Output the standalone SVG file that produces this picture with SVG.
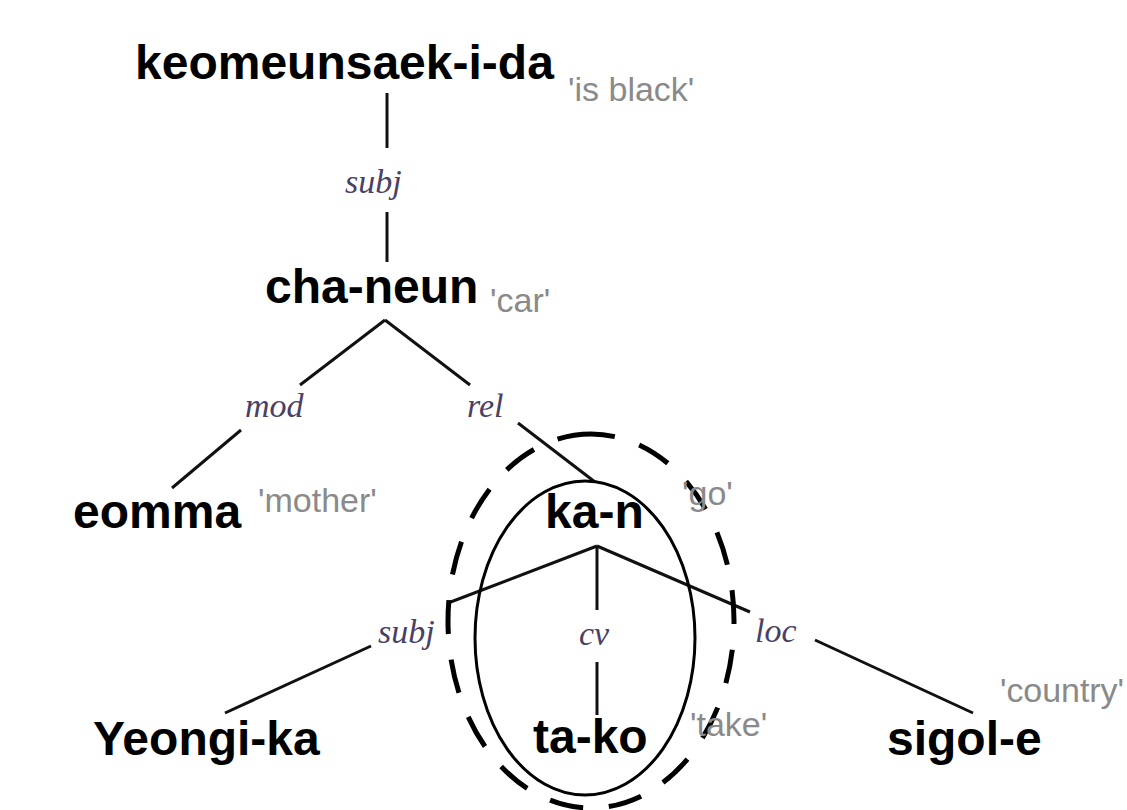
<svg xmlns="http://www.w3.org/2000/svg" width="1127" height="810" viewBox="0 0 1127 810">
  <style>
    .word { font-family: "Liberation Sans", Arial, sans-serif; font-weight: bold; font-size: 48px; fill: #000; }
    .gloss { font-family: "Liberation Sans", Arial, sans-serif; font-size: 34px; fill: #8a8a8a; }
    .rel { font-family: "Liberation Serif", "Times New Roman", serif; font-style: italic; font-size: 34px; fill: #4a3f66; }
    .edge { stroke: #111; stroke-width: 3; fill: none; stroke-linecap: butt; }
    .ring { stroke: #000; stroke-width: 3; fill: none; }
    .ring-dash { stroke: #000; stroke-width: 5; fill: none; }
  </style>
  <rect width="1127" height="810" fill="#fff"/>

  <!-- dependency arcs; each one is broken around its relation label -->
  <g id="connectors">
    <line class="edge" x1="387" y1="93" x2="387" y2="148"/>
    <line class="edge" x1="387" y1="212" x2="387" y2="262"/>
    <line class="edge" x1="385" y1="320" x2="300" y2="385"/>
    <line class="edge" x1="385" y1="320" x2="470" y2="385"/>
    <line class="edge" x1="241" y1="430" x2="172" y2="488"/>
    <line class="edge" x1="518" y1="423" x2="595" y2="482"/>
    <line class="edge" x1="597" y1="546" x2="597" y2="610"/>
    <line class="edge" x1="597" y1="662" x2="597" y2="715"/>
    <line class="edge" x1="597" y1="546" x2="448" y2="603"/>
    <line class="edge" x1="371" y1="646" x2="225" y2="713"/>
    <line class="edge" x1="597" y1="546" x2="750" y2="612"/>
    <line class="edge" x1="815" y1="640" x2="973" y2="713"/>
  </g>

  <!-- relation labels -->
  <g id="labels">
    <text class="rel" x="345" y="193">subj</text>
    <text class="rel" x="245" y="417">mod</text>
    <text class="rel" x="467" y="417">rel</text>
    <text class="rel" x="378" y="643">subj</text>
    <text class="rel" x="579" y="645">cv</text>
    <text class="rel" x="755" y="642">loc</text>
  </g>

  <!-- catena groupings around ka-n / ta-ko -->
  <g id="catena">
    <ellipse class="ring" cx="585" cy="638" rx="110" ry="157"/>
    <path class="ring-dash" d="M591,434 A143,187 0 0 1 591,808 A143,187 0 0 1 591,434" pathLength="1040.6"
          stroke-dasharray="24 25.8 34 25.8 34 25.8 34 25.8 34 25.8 34 25.8 34 25.8 34 25.8 34 25.8 34 25.8 34 25.8 34 25.8 34 25.8 34 25.8 34 25.8 34 25.8 34 25.8 34 0"/>
  </g>

  <g id="n-keomeunsaek">
    <text class="word" x="135" y="79">keomeunsaek-i-da</text>
    <text class="gloss" x="568" y="101">'is black'</text>
  </g>
  <g id="n-cha-neun">
    <text class="word" x="265" y="303">cha-neun</text>
    <text class="gloss" x="490" y="312">'car'</text>
  </g>
  <g id="n-eomma">
    <text class="word" x="73" y="528">eomma</text>
    <text class="gloss" x="258" y="512">'mother'</text>
  </g>
  <g id="n-ka-n">
    <text class="word" x="545" y="528">ka-n</text>
    <text class="gloss" x="682" y="505">'go'</text>
  </g>
  <g id="n-yeongi-ka">
    <text class="word" x="93" y="755">Yeongi-ka</text>
  </g>
  <g id="n-ta-ko">
    <text class="word" x="533" y="753">ta-ko</text>
    <text class="gloss" x="690" y="736">'take'</text>
  </g>
  <g id="n-sigol-e">
    <text class="word" x="887" y="755">sigol-e</text>
    <text class="gloss" x="1000" y="702" textLength="124">'country'</text>
  </g>
</svg>
